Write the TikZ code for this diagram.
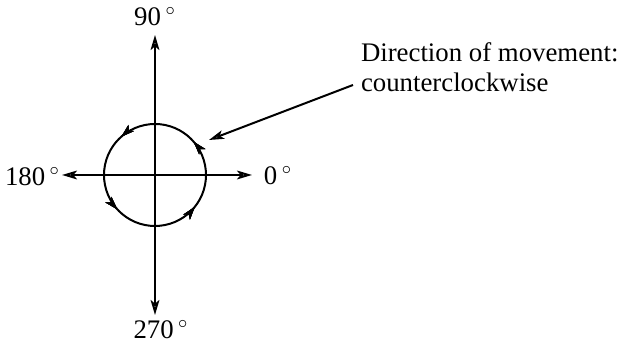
\documentclass[tikz,border=0pt]{standalone}
\usepackage{fontspec}
\setmainfont{Liberation Serif}
\usetikzlibrary{arrows.meta,decorations.markings}

\tikzset{
    tip/.style={-{Stealth[length=7.5pt,width=4.4pt,inset=1.8pt,fill=gray!45]}},
    lbl/.style={font=\fontsize{13.4}{15}\selectfont, inner sep=0pt},
    circmark/.style={decoration={markings,
        mark=at position #1 with {\arrow{Stealth[length=6.5pt,width=4pt,inset=1.6pt,fill=gray!45]}}},
        postaction=decorate}
}
\newcommand{\dg}{\,$^{\circ}$}

\begin{document}
\begin{tikzpicture}[x=0.5pt, y=0.5pt, line width=1pt]
    \useasboundingbox (-155,-171) rectangle (467,175);

    % Axes
    \coordinate (O) at (0,0);
    \coordinate (E) at (97,0);
    \coordinate (N) at (0,140);
    \coordinate (W) at (-93,0);
    \coordinate (S) at (0,-140);

    \draw[tip] (O) -- (E);
    \draw[tip] (O) -- (N);
    \draw[tip] (O) -- (W);
    \draw[tip] (O) -- (S);

    % Circle with direction marks
    \draw[circmark=0.113, circmark=0.365, circmark=0.618, circmark=0.893] (O) circle (51);

    % Angle labels
    \node[lbl, anchor=base] (deg90) at (0,149) {90\dg};
    \node[lbl, anchor=base] (deg270) at (6,-164) {270\dg};
    \node[lbl, anchor=base east] (deg180) at (-94,-11) {180\dg};
    \node[lbl, anchor=base west] (deg0) at (108,-10) {0\dg};

    % Note
    \node[lbl, anchor=base west, align=left] (note) at (205,83.3)
        {Direction of movement:\\counterclockwise};
    \coordinate (tail) at (198,90);
    \coordinate (head) at (54,35);
    \draw[tip] (tail) -- (head);
\end{tikzpicture}
\end{document}
